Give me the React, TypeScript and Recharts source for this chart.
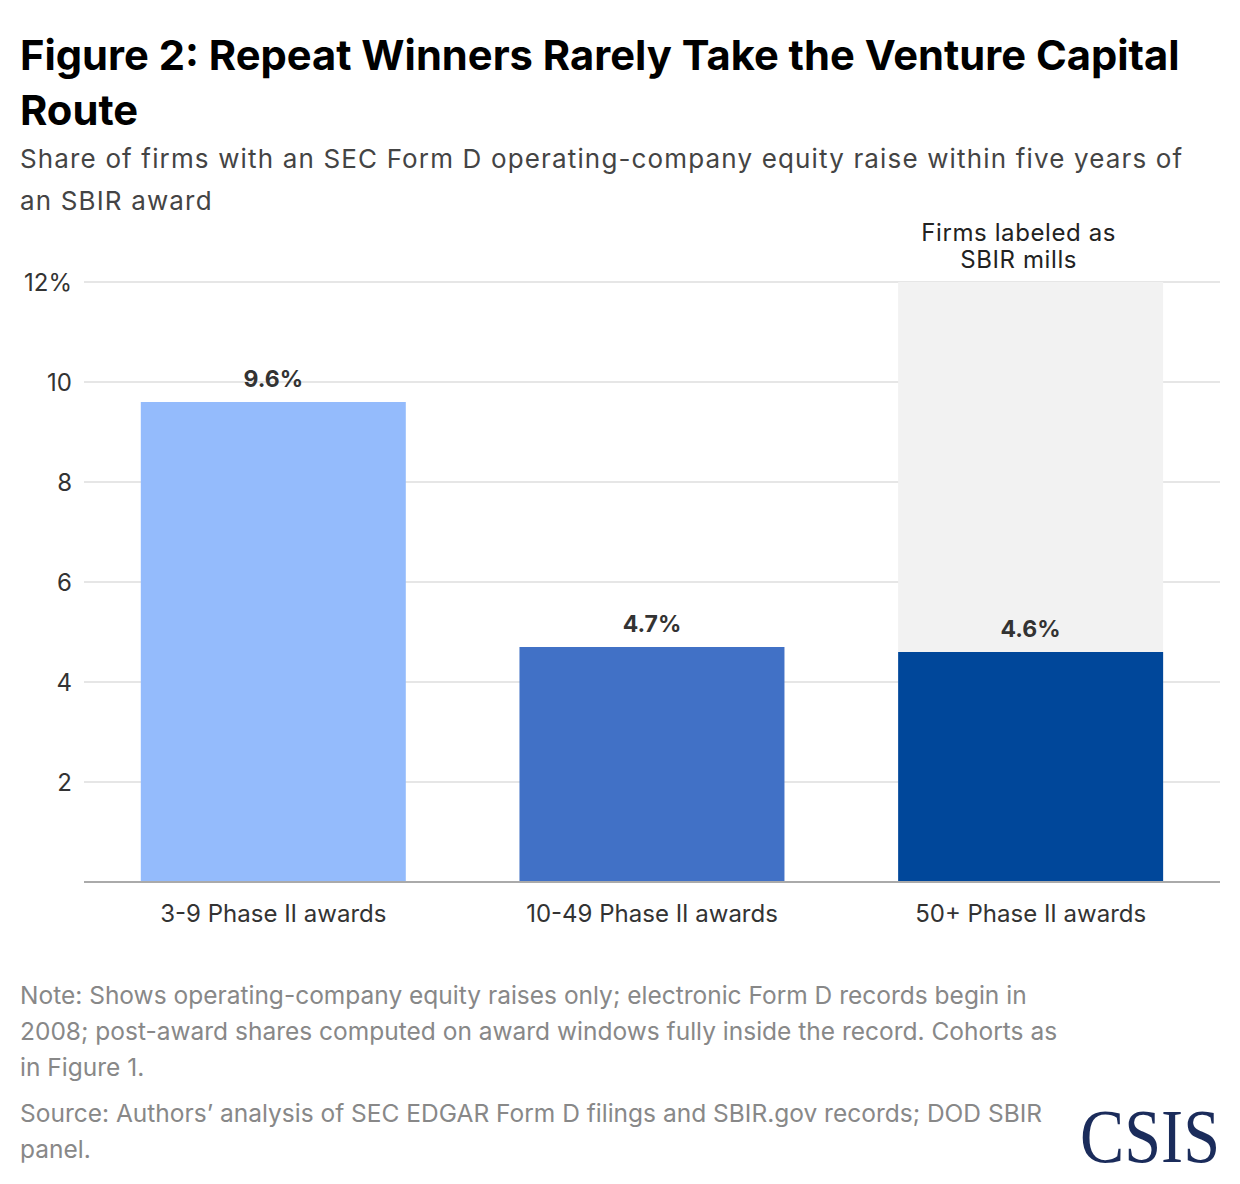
import { Bar, BarChart, CartesianGrid, Cell, LabelList, XAxis, YAxis } from "recharts";

const CATEGORIES = ["3-9 Phase II awards", "10-49 Phase II awards", "50+ Phase II awards"];
const SHARES = [9.6, 4.7, 4.6];
const BAR_COLORS = ["#94bbfc", "#4171c6", "#00479a"];
const Y_TICKS = [2, 4, 6, 8, 10, 12];
const MILL_INDEX = 2;
const MILL_NOTE = ["Firms labeled as", "SBIR mills"];

const TITLE = ["Figure 2: Repeat Winners Rarely Take the Venture Capital", "Route"];
const SUBTITLE = [
  "Share of firms with an SEC Form D operating-company equity raise within five years of",
  "an SBIR award",
];
const NOTE = [
  "Note: Shows operating-company equity raises only; electronic Form D records begin in",
  "2008; post-award shares computed on award windows fully inside the record. Cohorts as",
  "in Figure 1.",
];
const SOURCE = [
  "Source: Authors\u2019 analysis of SEC EDGAR Form D filings and SBIR.gov records; DOD SBIR",
  "panel.",
];

const data = CATEGORIES.map((name, i) => ({ name, share: SHARES[i] }));

const FONT = "Inter, 'Noto Sans', sans-serif";

// gray band behind the mills bar, with its note above the plot
function MillBackground(props: any) {
  const { x, y, width, height, index } = props;
  if (index !== MILL_INDEX) return <g />;
  const cx = x + width / 2 - 12;
  const textStyle = { fontSize: 24, fill: "#222", fontFamily: FONT, letterSpacing: 0.6 };
  return (
    <g>
      <rect x={x} y={y} width={width} height={height} fill="#f2f2f2" />
      <text x={cx} y={y - 41} textAnchor="middle" style={textStyle}>
        {MILL_NOTE[0]}
      </text>
      <text x={cx} y={y - 14} textAnchor="middle" style={textStyle}>
        {MILL_NOTE[1]}
      </text>
    </g>
  );
}

function Lines({ lines, top, size, lh, color, weight, spacing = 0 }: any) {
  return (
    <div
      style={{
        position: "absolute",
        left: 20,
        top,
        fontSize: size,
        lineHeight: `${lh}px`,
        letterSpacing: spacing,
        color,
        fontWeight: weight,
        whiteSpace: "nowrap",
      }}
    >
      {lines.map((l: string) => (
        <div key={l}>{l}</div>
      ))}
    </div>
  );
}

export default function App() {
  return (
    <div
      style={{
        position: "absolute",
        top: 0,
        left: 0,
        width: 1240,
        height: 1184,
        background: "#fff",
        fontFamily: FONT,
        overflow: "hidden",
      }}
    >
      <Lines lines={TITLE} top={28} size={41.7} lh={55} color="#000" weight={700} />
      <Lines lines={SUBTITLE} top={138} size={26} lh={42} color="#444" weight={400} spacing={1.15} />

      <div style={{ position: "absolute", top: 200, left: 0 }}>
        <BarChart
          width={1240}
          height={760}
          data={data}
          margin={{ top: 82, right: 20, left: 0, bottom: 28 }}
          barCategoryGap="15%"
        >
          <CartesianGrid vertical={false} stroke="#e6e6e6" strokeWidth={2} />
          <XAxis
            dataKey="name"
            height={50}
            tickLine={false}
            tickSize={0}
            tickMargin={23}
            axisLine={{ stroke: "#aaaaaa", strokeWidth: 2 }}
            tick={{ fontSize: 24, fill: "#333", fontFamily: FONT }}
          />
          <YAxis
            domain={[0, 12]}
            ticks={Y_TICKS}
            width={84}
            axisLine={false}
            tickLine={false}
            tickSize={0}
            tickMargin={12}
            tick={{ fontSize: 24, fill: "#333", fontFamily: FONT }}
            tickFormatter={(v: number) => (v === 12 ? "12%" : String(v))}
          />
          <Bar dataKey="share" isAnimationActive={false} background={MillBackground}>
            {data.map((d, i) => (
              <Cell key={d.name} fill={BAR_COLORS[i]} />
            ))}
            <LabelList
              dataKey="share"
              position="top"
              offset={15}
              formatter={(v: any) => `${v}%`}
              style={{ fontSize: 23, fontWeight: 700, fill: "#333", fontFamily: FONT }}
            />
          </Bar>
        </BarChart>
      </div>

      <Lines lines={NOTE} top={977} size={24.5} lh={36} color="#888" weight={400} />
      <Lines lines={SOURCE} top={1095} size={24.5} lh={36} color="#888" weight={400} />

      <svg style={{ position: "absolute", left: 0, top: 0 }} width={1240} height={1184} pointerEvents="none">
        <text
          x={1080}
          y={1162}
          fontSize={76}
          fontFamily="'Liberation Serif', 'DejaVu Serif', serif"
          fill="#1b2c5b"
          textLength={140}
          lengthAdjust="spacingAndGlyphs"
        >
          CSIS
        </text>
      </svg>
    </div>
  );
}
